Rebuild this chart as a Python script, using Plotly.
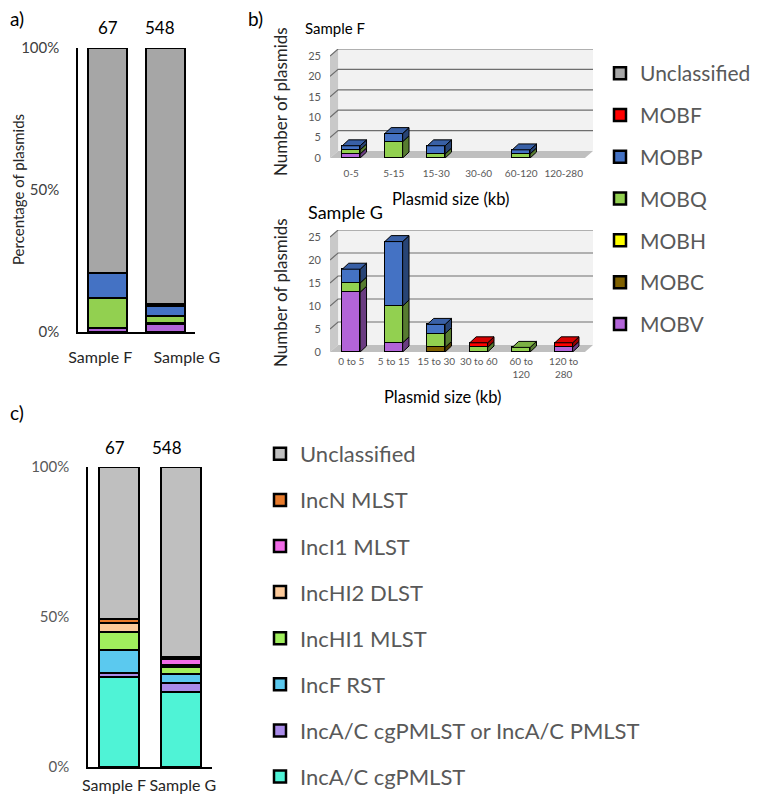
import plotly.graph_objects as go

# the page body has an 8px margin, so the figure is drawn 8px smaller and
# reference pixel positions are shifted by that offset
PAGE_OFF = 8
W, H = 760 - PAGE_OFF, 797 - PAGE_OFF

# ---- data ----
samples = ["Sample F", "Sample G"]
sample_totals = [67, 548]

# a) MOB types, % of plasmids (stacked bottom -> top)
mob_types = ["MOBV", "MOBC", "MOBH", "MOBQ", "MOBP", "MOBF", "Unclassified"]
mob_colors = ["#b264d8", "#7f6000", "#ffff00", "#92d050", "#4472c4", "#ff0000", "#a6a6a6"]
mob_pct_f = [1.5, 0, 0, 10.4, 9.0, 0, 79.1]
mob_pct_g = [2.9, 0.2, 0, 2.7, 3.5, 0.4, 90.3]

# b) number of plasmids per size bin
size_bins_f = ["0-5", "5-15", "15-30", "30-60", "60-120", "120-280"]
size_bins_g = ["0 to 5", "5 to 15", "15 to 30", "30 to 60", "60 to<br>120", "120 to<br>280"]
f_mobv = [1, 0, 0, 0, 0, 0]
f_mobq = [1, 4, 1, 0, 1, 0]
f_mobp = [1, 2, 2, 0, 1, 0]
g_mobv = [13, 2, 0, 0, 0, 1]
g_mobc = [0, 0, 1, 0, 0, 0]
g_mobq = [2, 8, 3, 1, 1, 0]
g_mobp = [3, 14, 2, 0, 0, 0]
g_mobf = [0, 0, 0, 1, 0, 1]

# c) plasmid MLST schemes, % of plasmids (stacked bottom -> top)
inc_types = ["IncA/C cgPMLST", "IncA/C cgPMLST or IncA/C PMLST", "IncF RST", "IncHI1 MLST",
             "IncHI2 DLST", "IncI1 MLST", "IncN MLST", "Unclassified"]
inc_colors = ["#4ff3d6", "#a98be9", "#5bc9ef", "#a0ef5d", "#fcca9a", "#f06ae6", "#e87b2c", "#bfbfbf"]
inc_pct_f = [30.0, 1.5, 7.6, 5.9, 2.9, 0, 1.5, 50.6]
inc_pct_g = [24.9, 3.2, 3.0, 2.4, 0.4, 2.2, 0.6, 63.3]

FONT = "Lato"
GREY = "#595959"


def fx(p):
    return max(p - PAGE_OFF, 0) / W


def fy(p):
    return 1 - max(p - PAGE_OFF, 0) / H


def shade(hexcol, f):
    r, g, b = (int(hexcol[i:i + 2], 16) for i in (1, 3, 5))
    return "#%02x%02x%02x" % (int(r * f), int(g * f), int(b * f))


fig = go.Figure()

# ---- panel a ----
for i, (name, col, vf, vg) in enumerate(zip(mob_types, mob_colors, mob_pct_f, mob_pct_g)):
    fig.add_trace(go.Bar(x=samples, y=[vf, vg], name=name, width=0.66,
                         marker=dict(color=col, line=dict(color="black", width=2.5)),
                         xaxis="x", yaxis="y", legend="legend", legendgroup="a" + name,
                         legendrank=100 - i))

# ---- panel c ----
for i, (name, col, vf, vg) in enumerate(zip(inc_types, inc_colors, inc_pct_f, inc_pct_g)):
    fig.add_trace(go.Bar(x=samples, y=[vf, vg], name=name, width=0.65,
                         marker=dict(color=col, line=dict(color="black", width=2.5)),
                         xaxis="x4", yaxis="y4", legend="legend2", legendgroup="c" + name,
                         legendrank=100 - i))

# ---- panel b (pseudo 3D columns) ----
BAR_W = 0.42
WALL_DX = 0.19
BAR_DX = 0.15
mob_col = dict(zip(mob_types, mob_colors))
shapes = []


def chart_3d(xa, ya, series, wall_dy, bar_dy):
    n = len(series[0][1])
    xs = list(range(n))
    # walls and floor
    x0, x1 = -0.5, n - 0.5
    shapes.append(dict(type="rect", xref=xa, yref=ya, x0=x0 + WALL_DX, x1=x1 + WALL_DX,
                       y0=wall_dy, y1=25 + wall_dy, fillcolor="#f2f2f2", line_width=0, layer="below"))
    shapes.append(dict(type="path", xref=xa, yref=ya, layer="below", line_width=0, fillcolor="#c9c9c9",
                       path=f"M{x0},0 L{x0 + WALL_DX},{wall_dy} L{x0 + WALL_DX},{25 + wall_dy} L{x0},25 Z"))
    shapes.append(dict(type="path", xref=xa, yref=ya, layer="below", line_width=0, fillcolor="#bfbfbf",
                       path=f"M{x0},0 L{x1},0 L{x1 + WALL_DX},{wall_dy} L{x0 + WALL_DX},{wall_dy} Z"))
    for v in range(5, 30, 5):
        shapes.append(dict(type="path", xref=xa, yref=ya, layer="below",
                           line=dict(color="#6e6e6e", width=1.2),
                           path=f"M{x0},{v} L{x0 + WALL_DX},{v + wall_dy} L{x1 + WALL_DX},{v + wall_dy}"))
    base = [0] * n
    tops = {}
    sides = {}
    for name, vals in series:
        fig.add_trace(go.Bar(x=xs, y=[v if v else None for v in vals], width=BAR_W,
                             marker=dict(color=mob_col[name], line=dict(color="black", width=1)),
                             xaxis=xa, yaxis=ya, showlegend=False, hoverinfo="skip"))
        for i, v in enumerate(vals):
            if not v:
                continue
            b, t = base[i], base[i] + v
            xr = i + BAR_W / 2
            sides.setdefault(name, ([], []))
            sides[name][0].extend([xr, xr + BAR_DX, xr + BAR_DX, xr, xr, None])
            sides[name][1].extend([b, b + bar_dy, t + bar_dy, t, b, None])
            tops[i] = (name, t)
            base[i] = t
    for name, (sx, sy) in sides.items():
        fig.add_trace(go.Scatter(x=sx, y=sy, mode="lines", fill="toself",
                                 fillcolor=shade(mob_col[name], 0.6),
                                 line=dict(color="black", width=1), xaxis=xa, yaxis=ya,
                                 showlegend=False, hoverinfo="skip"))
    for i, (name, t) in tops.items():
        xl, xr = i - BAR_W / 2, i + BAR_W / 2
        fig.add_trace(go.Scatter(x=[xl, xr, xr + BAR_DX, xl + BAR_DX, xl],
                                 y=[t, t, t + bar_dy, t + bar_dy, t], mode="lines", fill="toself",
                                 fillcolor=shade(mob_col[name], 0.85),
                                 line=dict(color="black", width=1), xaxis=xa, yaxis=ya,
                                 showlegend=False, hoverinfo="skip"))


chart_3d("x2", "y2", [("MOBV", f_mobv), ("MOBQ", f_mobq), ("MOBP", f_mobp)], 1.72, 1.45)
chart_3d("x3", "y3", [("MOBV", g_mobv), ("MOBC", g_mobc), ("MOBQ", g_mobq),
                      ("MOBP", g_mobp), ("MOBF", g_mobf)], 1.52, 1.3)

# ---- axes ----
pct_axis = dict(range=[0, 100], tickvals=[0, 50, 100], ticktext=["0%", "50%", "100%"],
                showline=True, linecolor="black", linewidth=1.5, showgrid=False, zeroline=False,
                ticks="", ticklabelstandoff=14)
cat_axis = dict(range=[-0.5, 1.5], showline=True, linecolor="black", linewidth=1.5,
                showgrid=False, ticks="", tickangle=0, ticktext=samples,
                tickfont=dict(size=16, color="#262626"))
num_axis = dict(range=[-0.5, 5.5 + WALL_DX], tickvals=list(range(6)), showline=False,
                showgrid=False, zeroline=False, ticks="", tickangle=0,
                tickfont=dict(size=10, color=GREY))
cnt_axis = dict(tickvals=list(range(0, 30, 5)), showline=False, showgrid=False, zeroline=False,
                ticks="", ticklabelstandoff=8, tickfont=dict(size=11, color=GREY))
leg = dict(xanchor="left", yanchor="top", traceorder="grouped", bgcolor="rgba(0,0,0,0)")

fig.update_layout(
    width=W, height=H, margin=dict(l=0, r=0, t=0, b=0, autoexpand=False),
    plot_bgcolor="white", paper_bgcolor="white", barmode="stack", bargap=0,
    font=dict(family=FONT, color="black"), shapes=shapes,
    xaxis=dict(cat_axis, domain=[fx(78), fx(195)], anchor="y", tickvals=[-0.12, 1.36],
               ticklabelstandoff=10),
    yaxis=dict(pct_axis, domain=[fy(332), fy(48)], anchor="x",
               tickfont=dict(size=15, color="#404040")),
    xaxis2=dict(num_axis, domain=[fx(330), fx(593)], anchor="y2", ticktext=size_bins_f,
                ticklabelstandoff=8),
    yaxis2=dict(cnt_axis, domain=[fy(158), fy(49)], range=[0, 26.72], anchor="x2"),
    xaxis3=dict(num_axis, domain=[fx(330), fx(593)], anchor="y3", ticktext=size_bins_g,
                ticklabelstandoff=2),
    yaxis3=dict(cnt_axis, domain=[fy(352), fy(230)], range=[0, 26.52], anchor="x3"),
    xaxis4=dict(cat_axis, domain=[fx(88), fx(212)], anchor="y4", tickvals=[-0.08, 1.03],
                ticklabelstandoff=3),
    yaxis4=dict(pct_axis, domain=[fy(767), fy(467)], anchor="x4",
                tickfont=dict(size=15, color=GREY)),
    legend=dict(leg, x=fx(600), y=fy(53), tracegroupgap=11.5,
                font=dict(size=21, color=GREY)),
    legend2=dict(leg, x=fx(260), y=fy(433), tracegroupgap=14.5,
                 font=dict(size=22, color=GREY)),
)

# ---- text ----
ann = [
    dict(text="a)", x=fx(1), y=fy(18), size=19, anchor="left"),
    dict(text="b)", x=fx(246), y=fy(19), size=19, anchor="left"),
    dict(text="c)", x=fx(2), y=fy(412), size=19, anchor="left"),
    dict(text=str(sample_totals[0]), x=fx(108), y=fy(27), size=17, anchor="center"),
    dict(text=str(sample_totals[1]), x=fx(160), y=fy(27), size=17, anchor="center"),
    dict(text=str(sample_totals[0]), x=fx(115), y=fy(448), size=17, anchor="center"),
    dict(text=str(sample_totals[1]), x=fx(167), y=fy(448), size=17, anchor="center"),
    dict(text="Sample F", x=fx(303), y=fy(28), size=15, anchor="left"),
    dict(text="Sample G", x=fx(306), y=fy(212), size=18, anchor="left"),
    dict(text="Plasmid size (kb)", x=fx(450), y=fy(199), size=16.5, anchor="center"),
    dict(text="Plasmid size (kb)", x=fx(442), y=fy(397), size=16.5, anchor="center"),
]
for a in ann:
    fig.add_annotation(text=a["text"], x=a["x"], y=a["y"], xref="paper", yref="paper",
                       xanchor=a["anchor"], yanchor="middle", showarrow=False,
                       font=dict(size=a["size"], color="black"))

for txt, x, y, s in [("Percentage of plasmids", 18, 190, 15), ("Number of plasmids", 280, 102, 17),
                     ("Number of plasmids", 280, 293, 17)]:
    fig.add_annotation(text=txt, x=fx(x), y=fy(y), xref="paper", yref="paper", textangle=-90,
                       xanchor="center", yanchor="middle", showarrow=False,
                       font=dict(size=s, color="#262626"))

fig.write_html("out.html")
